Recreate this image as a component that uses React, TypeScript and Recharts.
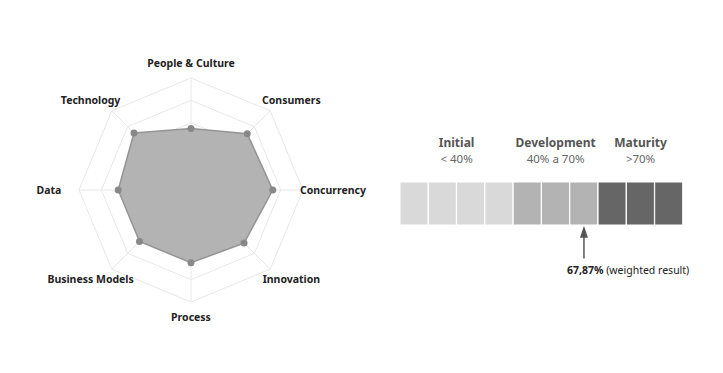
import {
  RadarChart,
  Radar,
  PolarGrid,
  PolarAngleAxis,
  PolarRadiusAxis,
  BarChart,
  Bar,
  Cell,
  XAxis,
  YAxis,
  ReferenceArea,
  ReferenceLine,
  Customized,
} from "recharts";

const FONT = "'Noto Sans', 'Open Sans', sans-serif";

const dimensions = [
  "People & Culture",
  "Consumers",
  "Concurrency",
  "Innovation",
  "Process",
  "Business Models",
  "Data",
  "Technology",
];
const scores = [55, 71, 73, 67, 65, 65, 65, 72];
const overall = "67,87%";

const cells = ["1", "2", "3", "4", "5", "6", "7", "8", "9", "10"];
const cellStage = ["init", "init", "init", "init", "dev", "dev", "dev", "mat", "mat", "mat"];
const cellValues = [1, 1, 1, 1, 1, 1, 1, 1, 1, 1];
const stages = [
  { key: "init", name: "Initial", range: "< 40%", from: "1", to: "4" },
  { key: "dev", name: "Development", range: "40% a 70%", from: "5", to: "7" },
  { key: "mat", name: "Maturity", range: ">70%", from: "8", to: "10" },
];
const resultCell = "7";

const stageColor: Record<string, string> = { init: "#d9d9d9", dev: "#b3b3b3", mat: "#666666" };

const radarData = dimensions.map((d, i) => ({ dim: d, score: scores[i] }));
const barData = cells.map((c, i) => ({ cell: c, v: cellValues[i], stage: cellStage[i] }));

const CX = 191;
const CY = 190;
const R = 112;

function AngleTick(props: any) {
  const a = (props.payload.coordinate * Math.PI) / 180;
  const x = CX + Math.cos(a) * 142;
  const y = CY - Math.sin(a) * 127;
  return (
    <text x={x} y={y} dy="0.35em" textAnchor="middle" fontSize={10.5} fontWeight={700} fill="#222" fontFamily={FONT}>
      {props.payload.value}
    </text>
  );
}

function CenterLabel() {
  return (
    <text x={CX} y={CY + 1} dy="0.35em" textAnchor="middle" fontSize={16} fontWeight={600} fill="#222" fontFamily={FONT}>
      {overall}
    </text>
  );
}

function StageLabel({ viewBox, name, range }: any) {
  const x = viewBox.x + viewBox.width / 2;
  return (
    <g fontFamily={FONT}>
      <text x={x} y={viewBox.y - 35} textAnchor="middle" fontSize={12} fontWeight={700} fill="#555">
        {name}
      </text>
      <text x={x} y={viewBox.y - 19} textAnchor="middle" fontSize={11.5} fill="#666">
        {range}
      </text>
    </g>
  );
}

function Arrow(props: any) {
  const { x1, y1, y2 } = props;
  const top = Math.min(y1, y2);
  const bottom = Math.max(y1, y2);
  return (
    <g>
      <line x1={x1} y1={top + 10} x2={x1} y2={bottom} stroke="#555" strokeWidth={1.5} />
      <polygon points={`${x1},${top} ${x1 - 4},${top + 12} ${x1 + 4},${top + 12}`} fill="#555" />
      <text x={x1 - 17} y={bottom + 15} fontSize={10.5} fill="#222" fontFamily={FONT}>
        <tspan fontWeight={700}>{overall}</tspan> (weighted result)
      </text>
    </g>
  );
}

export default function App() {
  return (
    <div style={{ position: "relative", width: 723, height: 373, margin: -8, background: "#fff", fontFamily: FONT }}>
      <div style={{ position: "absolute", left: 0, top: 0 }}>
        <RadarChart width={380} height={373} data={radarData} cx={CX} cy={CY} outerRadius={R}>
          <PolarGrid gridType="polygon" stroke="#e8e8e8" />
          <PolarAngleAxis dataKey="dim" tick={<AngleTick />} tickLine={false} axisLine={false} />
          <PolarRadiusAxis domain={[0, 100]} tickCount={6} tick={false} axisLine={false} />
          <Radar
            dataKey="score"
            stroke="#949494"
            strokeWidth={1.5}
            fill="#b3b3b3"
            fillOpacity={1}
            dot={{ r: 3.5, fill: "#888", stroke: "none" }}
            isAnimationActive={false}
          />
          <Customized component={<CenterLabel />} />
        </RadarChart>
      </div>
      <div style={{ position: "absolute", left: 400, top: 120 }}>
        <BarChart
          width={310}
          height={160}
          data={barData}
          barCategoryGap={0}
          margin={{ top: 62, right: 27, left: 0, bottom: 3.4 }}
        >
          <XAxis dataKey="cell" hide />
          <YAxis type="number" domain={[-1.2, 1]} hide />
          <Bar dataKey="v" isAnimationActive={false}>
            {barData.map((d) => (
              <Cell key={d.cell} fill={stageColor[d.stage]} stroke="#fff" strokeWidth={1} />
            ))}
          </Bar>
          {stages.map((s) => (
            <ReferenceArea
              key={s.key}
              x1={s.from}
              x2={s.to}
              y1={0}
              y2={1}
              fillOpacity={0}
              strokeOpacity={0}
              label={(p: any) => <StageLabel {...p} name={s.name} range={s.range} />}
            />
          ))}
          <ReferenceLine
            segment={[
              { x: resultCell, y: -0.02 },
              { x: resultCell, y: -0.78 },
            ]}
            shape={<Arrow />}
          />
        </BarChart>
      </div>
    </div>
  );
}
